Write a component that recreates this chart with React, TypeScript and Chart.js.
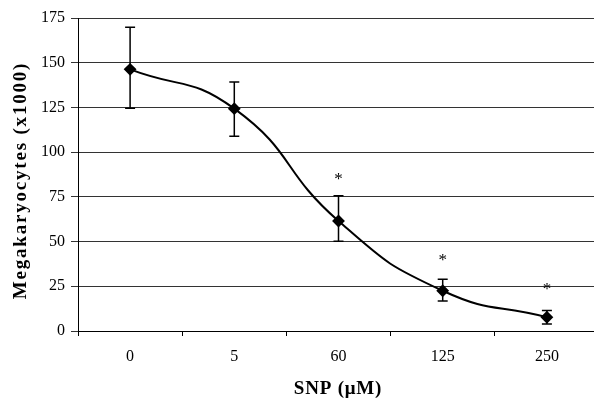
import { useEffect, useRef } from 'react';
import { Chart, registerables } from 'chart.js';
Chart.register(...registerables);

const categories = ['0', '5', '60', '125', '250'];
const means = [146.3, 124.3, 61.5, 22.5, 7.7];
const errUpper = [169.8, 139.2, 75.6, 29, 11.4];
const errLower = [124.5, 108.9, 50.2, 16.8, 3.9];
const asterisks: (number | null)[] = [null, null, 86.5, 40.8, 24.6];
const yMin = 0;
const yMax = 175;
const yStep = 25;
const xTitle = 'SNP (\u03bcM)';
const yTitle = 'Megakaryocytes (x1000)';

const FONT = '"Liberation Serif", "DejaVu Serif", serif';

const extrasPlugin = {
  id: 'extras',
  afterDatasetsDraw(chart: any) {
    const { ctx, scales, chartArea } = chart;
    const xs = scales.x;
    const ys = scales.y;
    ctx.save();
    ctx.strokeStyle = '#000';
    ctx.lineWidth = 1.5;
    for (let i = 0; i < categories.length; i++) {
      const x = xs.getPixelForValue(i);
      const yt = ys.getPixelForValue(errUpper[i]);
      const yb = ys.getPixelForValue(errLower[i]);
      ctx.beginPath();
      ctx.moveTo(x, yt);
      ctx.lineTo(x, yb);
      ctx.moveTo(x - 5, yt);
      ctx.lineTo(x + 5, yt);
      ctx.moveTo(x - 5, yb);
      ctx.lineTo(x + 5, yb);
      ctx.stroke();
    }
    ctx.fillStyle = '#000';
    ctx.font = `17px ${FONT}`;
    ctx.textAlign = 'center';
    ctx.textBaseline = 'middle';
    for (let i = 0; i < categories.length; i++) {
      const v = asterisks[i];
      if (v == null) continue;
      ctx.fillText('*', xs.getPixelForValue(i), ys.getPixelForValue(v) + 3);
    }
    // axis titles
    const cx = (chartArea.left + 594) / 2;
    ctx.font = `bold 19px ${FONT}`;
    (ctx as any).letterSpacing = '0.8px';
    ctx.fillText(xTitle, cx + 2, 389);
    ctx.save();
    ctx.translate(21, (chartArea.top + chartArea.bottom) / 2 + 6);
    ctx.rotate(-Math.PI / 2);
    (ctx as any).letterSpacing = '1.8px';
    ctx.fillText(yTitle, 0, 0);
    ctx.restore();
    ctx.restore();
  },
};

export default function App() {
  const ref = useRef<HTMLCanvasElement>(null);
  useEffect(() => {
    if (!ref.current) return;
    const chart = new Chart(ref.current, {
      type: 'line',
      data: {
        labels: categories,
        datasets: [
          {
            data: means,
            borderColor: '#000',
            backgroundColor: '#000',
            borderWidth: 2,
            tension: 0.5,
            pointStyle: 'rectRot',
            pointRadius: 5,
            pointBackgroundColor: '#000',
            pointBorderColor: '#000',
          },
        ],
      },
      options: {
        responsive: false,
        animation: false,
        layout: { padding: { top: 18, right: 0, left: 0, bottom: 0 } },
        plugins: { legend: { display: false }, tooltip: { enabled: false } },
        scales: {
          x: {
            type: 'category',
            offset: true,
            grid: {
              display: true,
              drawOnChartArea: false,
              drawTicks: true,
              tickLength: 5,
              offset: true,
              color: '#000',
            },
            border: { color: '#000', width: 1 },
            ticks: { color: '#000', font: { family: FONT, size: 16 }, padding: 11 },
            afterFit(scale: any) {
              scale.height = 67;
            },
          },
          y: {
            min: yMin,
            max: yMax,
            ticks: { stepSize: yStep, color: '#000', font: { family: FONT, size: 16 }, padding: 6 },
            grid: { color: '#333', tickLength: 7, lineWidth: 1 },
            border: { color: '#000', width: 1 },
            afterFit(scale: any) {
              scale.width = 78;
            },
          },
        },
      },
      plugins: [extrasPlugin],
    } as any);
    return () => chart.destroy();
  }, []);
  return (
    <div style={{ position: 'absolute', left: 0, top: 0, width: 594, height: 398, overflow: 'hidden', background: '#fff' }}>
      <canvas ref={ref} width={606} height={398} />
    </div>
  );
}
